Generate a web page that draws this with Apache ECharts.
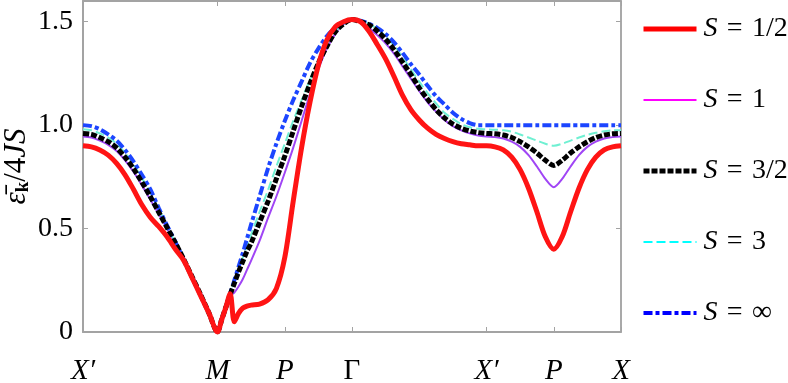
<!DOCTYPE html>
<html lang="en">

<head>
  <meta charset="utf-8">
  <title>Spin-wave dispersion</title>
  <script src="https://cdn.jsdelivr.net/npm/echarts@6.0.0/dist/echarts.min.js"></script>
  <style>
    html, body { margin: 0; padding: 0; background: #fff; }
  </style>
</head>

<body>
  <div id="main" style="width: 788px; height: 383px;"></div>

  <script>
    // path coordinate along X' - M - P - Gamma - X' - P - X
    var xs = [0, 0.125, 0.25, 0.375, 0.5, 0.625, 0.75, 0.875, 1, 1.125, 1.25, 1.375, 1.5, 1.625, 1.75, 1.875, 2,
      2.0625, 2.125, 2.1875, 2.25, 2.3125, 2.375, 2.4375, 2.5,
      2.625, 2.75, 2.875, 3, 3.125, 3.25, 3.375, 3.5, 3.625, 3.75, 3.875, 4,
      4.125, 4.25, 4.375, 4.5, 4.625, 4.75, 4.875, 5, 5.125, 5.25, 5.375, 5.5, 5.625, 5.75, 5.875, 6,
      6.125, 6.25, 6.375, 6.5, 6.625, 6.75, 6.875, 7, 7.125, 7.25, 7.375, 7.5, 7.625, 7.75, 7.875, 8];

    // S = 1/2
    var sHalf = [0.90, 0.895, 0.88, 0.855, 0.815, 0.76, 0.69, 0.615, 0.555, 0.51, 0.46, 0.40, 0.345, 0.26, 0.175, 0.09, 0,
      0.06, 0.12, 0.185, 0.05, 0.09, 0.115, 0.125, 0.13,
      0.135, 0.155, 0.21, 0.36, 0.63, 0.89, 1.11, 1.29, 1.41, 1.475, 1.50, 1.51,
      1.50, 1.455, 1.39, 1.32, 1.235, 1.145, 1.075, 1.025, 0.985, 0.955, 0.935, 0.92, 0.91, 0.905, 0.90, 0.90,
      0.895, 0.88, 0.845, 0.785, 0.695, 0.58, 0.46, 0.40, 0.46, 0.58, 0.695, 0.785, 0.845, 0.88, 0.895, 0.90];
    // S = 1
    var sOne = [0.945, 0.94, 0.925, 0.905, 0.875, 0.83, 0.775, 0.71, 0.64, 0.57, 0.50, 0.425, 0.35, 0.265, 0.18, 0.09, 0,
      0.06, 0.12, 0.175, 0.19, 0.22, 0.255, 0.30, 0.345,
      0.44, 0.55, 0.655, 0.77, 0.89, 1.02, 1.15, 1.27, 1.37, 1.44, 1.49, 1.51,
      1.50, 1.47, 1.435, 1.395, 1.345, 1.285, 1.225, 1.165, 1.11, 1.065, 1.025, 0.995, 0.975, 0.96, 0.95, 0.945,
      0.942, 0.935, 0.92, 0.895, 0.855, 0.80, 0.74, 0.70, 0.74, 0.80, 0.855, 0.895, 0.92, 0.935, 0.942, 0.945];
    // S = 3/2
    var sThreeHalf = [0.96, 0.955, 0.94, 0.92, 0.89, 0.845, 0.79, 0.725, 0.655, 0.58, 0.505, 0.43, 0.35, 0.265, 0.18, 0.09, 0,
      0.06, 0.12, 0.18, 0.235, 0.29, 0.34, 0.39, 0.43,
      0.53, 0.63, 0.74, 0.85, 0.97, 1.09, 1.20, 1.30, 1.38, 1.45, 1.49, 1.51,
      1.50, 1.485, 1.455, 1.415, 1.365, 1.305, 1.245, 1.18, 1.125, 1.075, 1.035, 1.005, 0.985, 0.972, 0.964, 0.96,
      0.958, 0.952, 0.94, 0.92, 0.895, 0.865, 0.83, 0.805, 0.83, 0.865, 0.895, 0.92, 0.94, 0.952, 0.958, 0.96];
    // S = 3
    var sThree = [0.98, 0.975, 0.96, 0.94, 0.91, 0.865, 0.81, 0.745, 0.675, 0.595, 0.512, 0.432, 0.35, 0.265, 0.18, 0.09, 0,
      0.06, 0.12, 0.185, 0.245, 0.305, 0.36, 0.415, 0.47,
      0.58, 0.685, 0.80, 0.91, 1.02, 1.12, 1.22, 1.31, 1.39, 1.45, 1.49, 1.51,
      1.505, 1.49, 1.465, 1.43, 1.385, 1.33, 1.27, 1.21, 1.155, 1.105, 1.06, 1.03, 1.005, 0.99, 0.982, 0.98,
      0.978, 0.975, 0.968, 0.955, 0.94, 0.925, 0.91, 0.90, 0.91, 0.925, 0.94, 0.953, 0.963, 0.97, 0.975, 0.975];
    // S = infinity
    var sInf = [1.0, 0.995, 0.98, 0.955, 0.925, 0.88, 0.825, 0.76, 0.69, 0.60, 0.515, 0.435, 0.35, 0.265, 0.18, 0.09, 0,
      0.06, 0.12, 0.185, 0.25, 0.315, 0.38, 0.45, 0.52,
      0.655, 0.79, 0.91, 1.02, 1.12, 1.21, 1.30, 1.37, 1.43, 1.47, 1.495, 1.51,
      1.505, 1.49, 1.47, 1.44, 1.40, 1.35, 1.295, 1.245, 1.19, 1.14, 1.10, 1.06, 1.03, 1.01, 1.0, 1.0,
      1.0, 1.0, 1.0, 1.0, 1.0, 1.0, 1.0, 1.0, 1.0, 1.0, 1.0, 1.0, 1.0, 1.0, 1.0, 1.0];

    // high-symmetry points
    var kPos = [0, 2, 3, 4, 6, 7, 8];
    var kLabels = ['X′', 'M', 'P', 'Γ', 'X′', 'P', 'X'];
    var yTicks = [0, 0.5, 1, 1.5];
    var spinLabels = ['1/2', '1', '3/2', '3', '∞'];

    var serif = "'Liberation Serif', 'DejaVu Serif', serif";
    var axisGray = '#a3a3a3';

    // line look of every curve: plot colour, legend colour, width, dash
    var styles = [
      { color: '#ff1414', legend: '#ff0000', width: 5, type: 'solid', z: 6 },
      { color: '#a045f5', legend: '#ff00ff', width: 2, type: 'solid', z: 2 },
      { color: '#000000', legend: '#000000', width: 5, type: [6, 2], z: 4 },
      { color: '#6ff0d2', legend: '#00ffff', width: 2, type: [9, 4], z: 3 },
      { color: '#1c45ff', legend: '#0000ff', width: 4, type: [9, 3, 4, 3], z: 3 }
    ];
    var curves = [sHalf, sOne, sThreeHalf, sThree, sInf];

    function pairs(ys) {
      return xs.map(function (x, i) { return [x, ys[i]]; });
    }

    var myChart = echarts.init(document.getElementById('main'));

    var option = {
      animation: false,
      grid: {
        left: 83,
        right: 167,
        top: 1,
        bottom: 51,
        outerBoundsMode: 'none'
      },
      legend: {
        orient: 'vertical',
        left: 636,
        top: 10,
        itemWidth: 53,
        itemHeight: 14,
        itemGap: 43,
        // hide the marker the line series puts in the middle of the legend line
        itemStyle: { opacity: 0 },
        textStyle: {
          fontFamily: serif,
          fontSize: 28,
          color: '#000',
          padding: [0, 0, 0, 2],
          rich: {
            i: { fontFamily: serif, fontStyle: 'italic', fontSize: 28, color: '#000' }
          }
        },
        formatter: function (name) {
          return '{i|S}\u2004=\u2004' + name.split(' = ')[1];
        },
        data: spinLabels.map(function (s, i) {
          return {
            name: 'S = ' + s,
            itemStyle: { opacity: 0 },
            lineStyle: { color: styles[i].legend, width: styles[i].width, type: styles[i].type, opacity: 1 }
          };
        })
      },
      xAxis: [{
        type: 'value',
        min: 0,
        max: 8,
        position: 'bottom',
        axisLine: { show: true, onZero: false, lineStyle: { color: axisGray, width: 2 } },
        axisTick: { show: true, inside: true, length: 5, customValues: kPos, lineStyle: { color: axisGray } },
        splitLine: { show: false },
        axisLabel: {
          customValues: kPos,
          margin: 25,
          fontFamily: serif,
          fontSize: 29,
          color: '#000',
          formatter: function (value) {
            var lab = kLabels[kPos.indexOf(value)];
            return lab === 'Γ' ? '{u|' + lab + '}' : '{i|' + lab + '}';
          },
          rich: {
            i: { fontFamily: serif, fontStyle: 'italic', fontSize: 29, color: '#000' },
            u: { fontFamily: serif, fontSize: 29, color: '#000' }
          }
        }
      }, {
        // mirrored axis on top of the frame
        type: 'value',
        min: 0,
        max: 8,
        position: 'top',
        axisLine: { show: true, onZero: false, lineStyle: { color: axisGray, width: 2 } },
        axisTick: { show: true, inside: true, length: 5, customValues: kPos, lineStyle: { color: axisGray } },
        splitLine: { show: false },
        axisLabel: { show: false }
      }],
      yAxis: [{
        type: 'value',
        min: 0,
        max: 1.6,
        position: 'left',
        name: '{e|ε\u0304}{k|k}{r|/4}{i|JS}',
        nameLocation: 'middle',
        nameGap: 50,
        nameMoveOverlap: false,
        nameTextStyle: {
          rich: {
            e: { fontFamily: serif, fontStyle: 'italic', fontSize: 31, color: '#000', lineHeight: 32 },
            k: { fontFamily: serif, fontWeight: 'bold', fontSize: 19, color: '#000', lineHeight: 32, verticalAlign: 'bottom' },
            r: { fontFamily: serif, fontSize: 31, color: '#000', lineHeight: 32 },
            i: { fontFamily: serif, fontStyle: 'italic', fontSize: 31, color: '#000', lineHeight: 32 }
          }
        },
        axisLine: { show: true, onZero: false, lineStyle: { color: axisGray, width: 2 } },
        axisTick: { show: true, inside: true, length: 5, customValues: [0.5, 1, 1.5], lineStyle: { color: axisGray } },
        splitLine: { show: false },
        axisLabel: {
          customValues: yTicks,
          margin: 10,
          fontFamily: serif,
          fontSize: 28,
          color: '#000',
          formatter: function (v) { return v === 0 ? '0' : v.toFixed(1); }
        }
      }, {
        type: 'value',
        min: 0,
        max: 1.6,
        position: 'right',
        axisLine: { show: true, onZero: false, lineStyle: { color: '#8c8c8c', width: 1.5 } },
        axisTick: { show: true, inside: true, length: 5, customValues: [0.5, 1, 1.5], lineStyle: { color: axisGray } },
        splitLine: { show: false },
        axisLabel: { show: false }
      }],
      series: curves.map(function (ys, i) {
        return {
          name: 'S = ' + spinLabels[i],
          type: 'line',
          symbol: 'none',
          smooth: 0.3,
          z: styles[i].z,
          lineStyle: { color: styles[i].color, width: styles[i].width, type: styles[i].type },
          itemStyle: { color: styles[i].color },
          data: pairs(ys)
        };
      })
    };

    myChart.setOption(option);
  </script>
</body>

</html>
